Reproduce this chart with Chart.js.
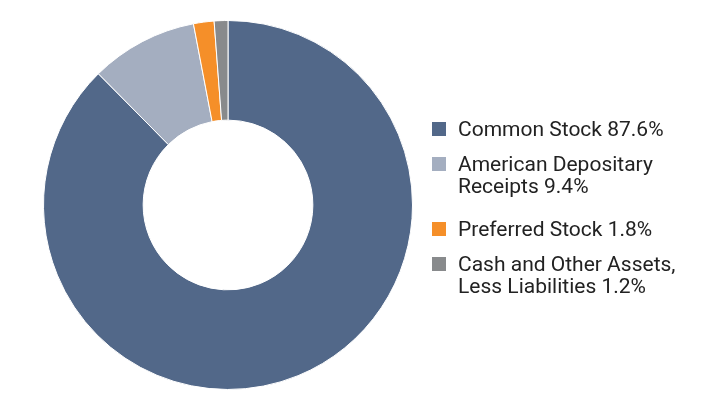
<!DOCTYPE html>
<html>
<head>
<meta charset="utf-8">
<script src="https://cdn.jsdelivr.net/npm/chart.js@4/dist/chart.umd.min.js"></script>
<style>
  html, body { margin: 0; padding: 0; background: #ffffff; }
  #wrap { position: relative; width: 720px; height: 420px; }
  #c { position: absolute; left: 0; top: 0; }
  #legend { position: absolute; left: 432px; top: 118px; font-family: Roboto, sans-serif; font-size: 21px; line-height: 22px; color: #222222; }
  .item { display: flex; align-items: flex-start; }
  .box { width: 14px; height: 14px; margin-top: 4px; margin-right: 12px; flex: none; }
</style>
</head>
<body>
<div id="wrap">
  <canvas id="c" width="720" height="420"></canvas>
  <div id="legend"></div>
</div>
<script>
const categories = ["Common Stock", "American Depositary Receipts", "Preferred Stock", "Cash and Other Assets, Less Liabilities"];
const legendLines = [["Common Stock 87.6%"], ["American Depositary", "Receipts 9.4%"], ["Preferred Stock 1.8%"], ["Cash and Other Assets,", "Less Liabilities 1.2%"]];
const values = [87.6, 9.4, 1.8, 1.2];
const colors = ["#526889", "#a4aec0", "#f58f29", "#888a8c"];

new Chart(document.getElementById('c'), {
  type: 'doughnut',
  data: {
    labels: categories,
    datasets: [{
      data: values,
      backgroundColor: colors,
      borderColor: '#ffffff',
      borderWidth: 1
    }]
  },
  options: {
    responsive: false,
    animation: false,
    cutout: '46%',
    layout: { padding: { left: 43, right: 307, top: 20, bottom: 30 } },
    plugins: { legend: { display: false }, tooltip: { enabled: false } }
  }
});

const lg = document.getElementById('legend');
legendLines.forEach((lines, i) => {
  const it = document.createElement('div');
  it.className = 'item';
  it.style.marginBottom = (13 + 8 * (lines.length - 1)) + 'px';
  const b = document.createElement('div');
  b.className = 'box';
  b.style.background = colors[i];
  const t = document.createElement('div');
  t.innerHTML = lines.join('<br>');
  it.appendChild(b); it.appendChild(t);
  lg.appendChild(it);
});
</script>
</body>
</html>
